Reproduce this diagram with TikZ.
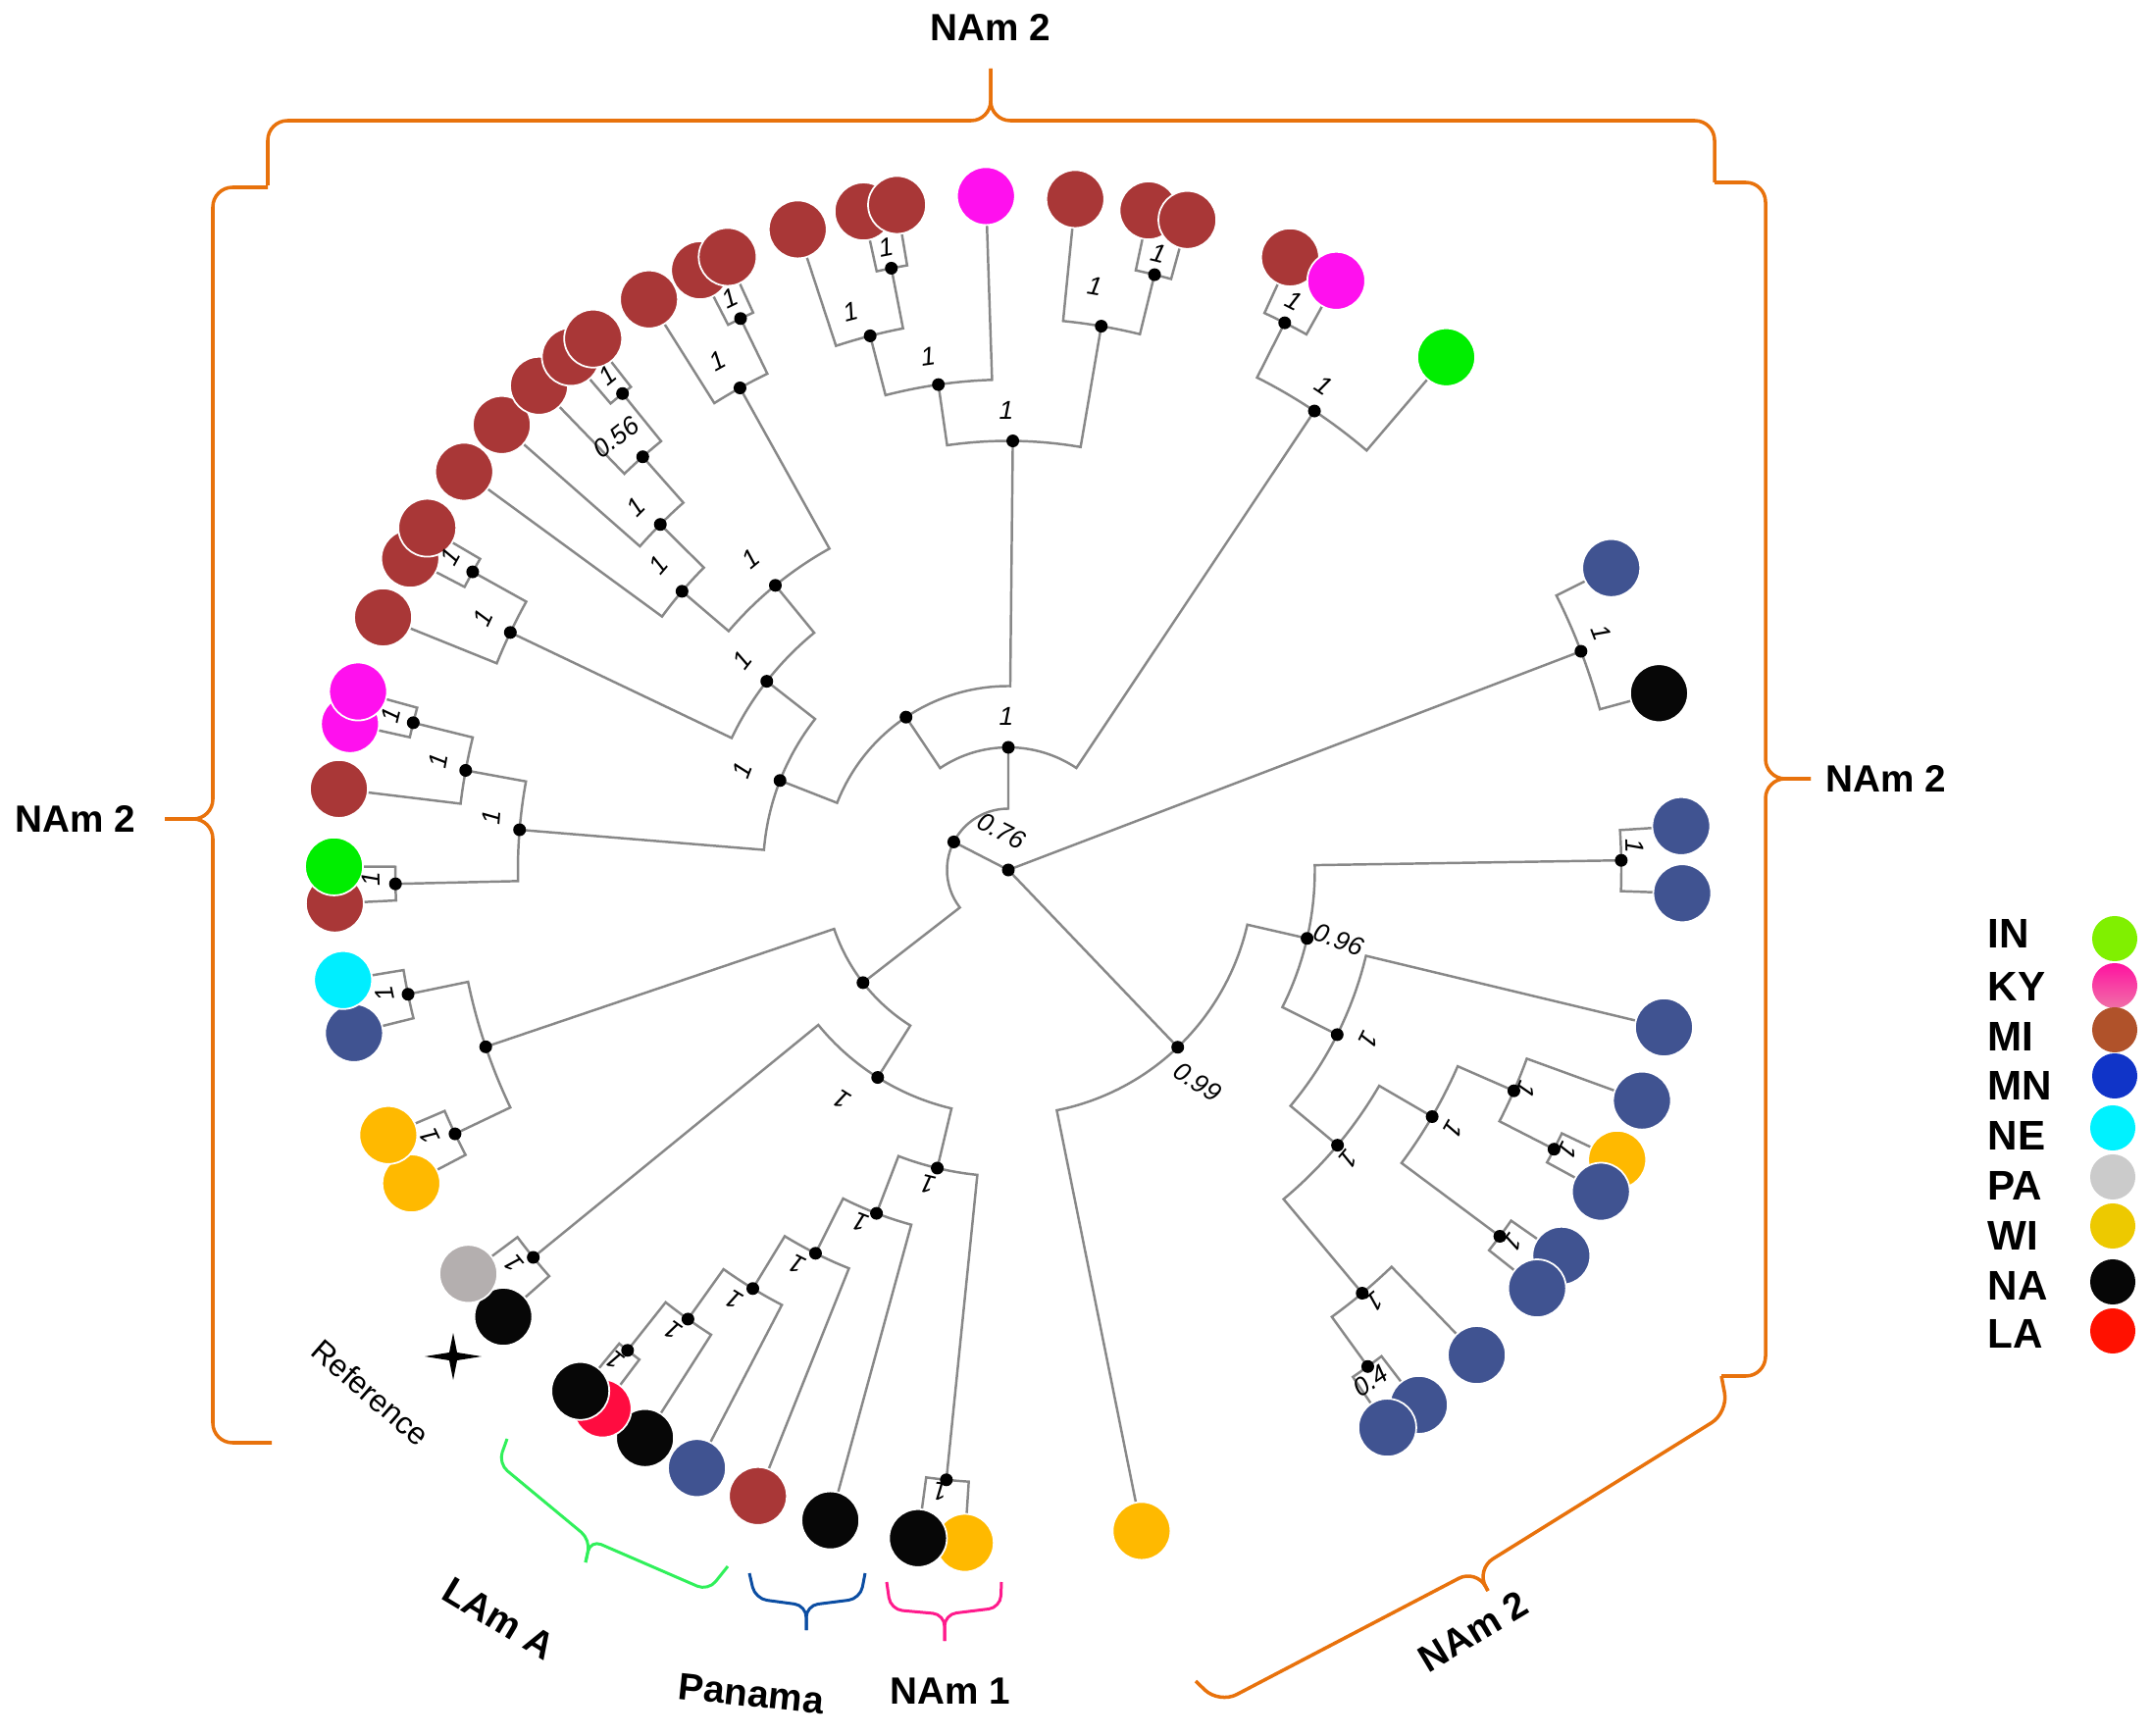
\documentclass[tikz,border=0pt]{standalone}
\usepackage{fontspec}
\setmainfont{Liberation Sans}
\usetikzlibrary{backgrounds}

\definecolor{linegrey}{HTML}{888888}
\definecolor{treeMI}{HTML}{A93737}
\definecolor{treeKY}{HTML}{FF10EE}
\definecolor{treeIN}{HTML}{00EE00}
\definecolor{treeNE}{HTML}{00EEFF}
\definecolor{treeMN}{HTML}{405391}
\definecolor{treeWI}{HTML}{FFB900}
\definecolor{treeNA}{HTML}{070707}
\definecolor{treePA}{HTML}{B4AFAF}
\definecolor{treeLA}{HTML}{FF0C40}
\definecolor{keyIN}{HTML}{80F000}
\definecolor{keyKYtop}{HTML}{FF12A0}
\definecolor{keyKYbot}{HTML}{F070A8}
\definecolor{keyMI}{HTML}{B0522A}
\definecolor{keyMN}{HTML}{1034C8}
\definecolor{keyNE}{HTML}{00F2FF}
\definecolor{keyPA}{HTML}{CBCBCB}
\definecolor{keyWI}{HTML}{EDC900}
\definecolor{keyNA}{HTML}{060606}
\definecolor{keyLA}{HTML}{FF1100}
\definecolor{braceOrange}{HTML}{E8720C}
\definecolor{braceGreen}{HTML}{30F05A}
\definecolor{braceBlue}{HTML}{0B4DA2}
\definecolor{bracePink}{HTML}{FF1A8C}

\tikzset{
  branch/.style={draw=linegrey, line width=0.7pt},
  dot/.style={circle, fill=black, inner sep=0pt, minimum size=0.13cm},
  tip/.style={circle, draw=white, line width=0.5pt, inner sep=0pt, minimum size=0.59cm},
  tipMI/.style={tip, fill=treeMI}, tipKY/.style={tip, fill=treeKY},
  tipIN/.style={tip, fill=treeIN}, tipNE/.style={tip, fill=treeNE},
  tipMN/.style={tip, fill=treeMN}, tipWI/.style={tip, fill=treeWI},
  tipNA/.style={tip, fill=treeNA}, tipPA/.style={tip, fill=treePA},
  tipLA/.style={tip, fill=treeLA},
  sup/.style={font=\fontsize{7.5}{8}\selectfont\itshape, inner sep=0pt},
  grp/.style={font=\fontsize{11}{13}\selectfont\bfseries, inner sep=0pt},
  keytext/.style={font=\fontsize{12}{14}\selectfont\bfseries, anchor=west, inner sep=0pt},
  keydot/.style={circle, inner sep=0pt, minimum size=0.46cm},
  clade/.style={line width=1pt, rounded corners=2mm},
  subclade/.style={line width=0.85pt, rounded corners=1.2mm}
}

\begin{document}
\begin{tikzpicture}[x=0.01cm, y=0.01cm]
\useasboundingbox (0,0) rectangle (2193,-1770);

% tree, centred on the root
\begin{scope}[shift={(1028,-887)}]
  \node[dot] (O) at (0,0) {};
  \node[dot] (B) at (152.8:62.5) {};
  \node[dot] (C) at (90:125) {};
  \node[dot] (D) at (123.8:187.5) {};
  \node[dot] (E) at (89.4:437.5) {};
  \node[dot] (E1) at (98.2:500) {};
  \node[dot] (E2) at (104.5:562.5) {};
  \node[dot] (E3) at (101:625) {};
  \node[dot] (E4) at (80.3:562.5) {};
  \node[dot] (E5) at (76.2:625) {};
  \node[dot] (G) at (56.3:562.5) {};
  \node[dot] (G1) at (63.2:625) {};
  \node[dot] (F) at (158.6:250) {};
  \node[dot] (F1) at (142:312.5) {};
  \node[dot] (F2) at (175.3:500) {};
  \node[dot] (F3) at (129.3:375) {};
  \node[dot] (F4) at (154.5:562.5) {};
  \node[dot] (F5) at (150.9:625) {};
  \node[dot] (F6) at (119.1:562.5) {};
  \node[dot] (F7) at (139.5:437.5) {};
  \node[dot] (F8) at (115.9:625) {};
  \node[dot] (F9) at (135.2:500) {};
  \node[dot] (F10) at (131.5:562.5) {};
  \node[dot] (F11) at (129:625) {};
  \node[dot] (F12) at (181.3:625) {};
  \node[dot] (F13) at (169.6:562.5) {};
  \node[dot] (F14) at (166.1:625) {};
  \node[dot] (H) at (217.8:187.5) {};
  \node[dot] (H1) at (198.7:562.5) {};
  \node[dot] (H2) at (237.8:250) {};
  \node[dot] (H3) at (219.2:625) {};
  \node[dot] (H4) at (256.6:312.5) {};
  \node[dot] (H5) at (264.2:625) {};
  \node[dot] (H6) at (249:375) {};
  \node[dot] (H7) at (243.3:437.5) {};
  \node[dot] (H8) at (238.6:500) {};
  \node[dot] (H9) at (234.5:562.5) {};
  \node[dot] (H10) at (231.6:625) {};
  \node[dot] (H11) at (191.7:625) {};
  \node[dot] (H12) at (205.5:625) {};
  \node[dot] (R1) at (20.9:625) {};
  \node[dot] (K) at (-46.3:250) {};
  \node[dot] (K1) at (-12.9:312.5) {};
  \node[dot] (K2) at (0.9:625) {};
  \node[dot] (K3) at (-26.6:375) {};
  \node[dot] (K4) at (-39.9:437.5) {};
  \node[dot] (K5) at (-30.2:500) {};
  \node[dot] (K6) at (-23.6:562.5) {};
  \node[dot] (K7) at (-27.1:625) {};
  \node[dot] (K8) at (-36.7:625) {};
  \node[dot] (K9) at (-50.1:562.5) {};
  \node[dot] (K10) at (-54.1:625) {};

  % tips, back to front
  \node[tipWI] (H5b) at (266.3:687.5) {};
  \node[tipNA] (H5a) at (262.3:687.5) {};
  \node[tipNA] (H6a) at (254.7:687.5) {};
  \node[tipMI] (H7a) at (248.2:687.5) {};
  \node[tipMN] (H8a) at (242.5:687.5) {};
  \node[tipNA] (H9a) at (237.4:687.5) {};
  \node[tipLA] (H10b) at (233:687.5) {};
  \node[tipNA] (H10a) at (230.6:687.5) {};
  \node[tipNA] (H3b) at (221.5:687.5) {};
  \node[tipPA] (H3a) at (216.8:687.5) {};
  \node[tipWI] (H12b) at (207.7:687.5) {};
  \node[tipWI] (H12a) at (203.15:687.5) {};
  \node[tipMN] (H11b) at (194:687.5) {};
  \node[tipNE] (H11a) at (189.4:687.5) {};
  \node[tipMI] (F12b) at (182.85:687.5) {};
  \node[tipIN] (F12a) at (179.7:687.5) {};
  \node[tipMI] (F13a) at (173.1:687.5) {};
  \node[tipKY] (F14b) at (167.5:687.5) {};
  \node[tipKY] (F14a) at (164.65:687.5) {};
  \node[tipMI] (F4a) at (158:687.5) {};
  \node[tipMI] (F5b) at (152.5:687.5) {};
  \node[tipMI] (F5a) at (149.5:687.5) {};
  \node[tipMI] (F7a) at (143.8:687.5) {};
  \node[tipMI] (F9a) at (138.7:687.5) {};
  \node[tipMI] (F10a) at (134.1:687.5) {};
  \node[tipMI] (F11b) at (130.45:687.5) {};
  \node[tipMI] (F11a) at (128:687.5) {};
  \node[tipMI] (F6a) at (122.2:687.5) {};
  \node[tipMI] (F8b) at (117.2:687.5) {};
  \node[tipMI] (F8a) at (114.6:687.5) {};
  \node[tipMI] (E2a) at (108.2:687.5) {};
  \node[tipMI] (E3b) at (102.4:687.5) {};
  \node[tipMI] (E3a) at (99.5:687.5) {};
  \node[tipKY] (E1a) at (91.9:687.5) {};
  \node[tipMI] (E4a) at (84.3:687.5) {};
  \node[tipMI] (E5b) at (78:687.5) {};
  \node[tipMI] (E5a) at (74.6:687.5) {};
  \node[tipMI] (G1b) at (65.3:687.5) {};
  \node[tipKY] (G1a) at (60.9:687.5) {};
  \node[tipIN] (Ga) at (49.5:687.5) {};
  \node[tipMN] (R1b) at (26.6:687.5) {};
  \node[tipNA] (R1a) at (15.2:687.5) {};
  \node[tipMN] (K2b) at (3.73:687.5) {};
  \node[tipMN] (K2a) at (-1.98:687.5) {};
  \node[tipMN] (K3a) at (-13.5:687.5) {};
  \node[tipMN] (K6a) at (-20:687.5) {};
  \node[tipWI] (K7b) at (-25.45:687.5) {};
  \node[tipMN] (K7a) at (-28.5:687.5) {};
  \node[tipMN] (K8b) at (-34.9:687.5) {};
  \node[tipMN] (K8a) at (-38.35:687.5) {};
  \node[tipMN] (K9a) at (-46:687.5) {};
  \node[tipMN] (K10b) at (-52.5:687.5) {};
  \node[tipMN] (K10a) at (-55.8:687.5) {};
  \node[tipWI] (Ka) at (-78.6:687.5) {};

  \begin{pgfonlayer}{background}
    \draw[branch] (O.center) -- (B.center);
    \draw[branch] (O.center) -- (R1.center);
    \draw[branch] (O.center) -- (K.center);
    \draw[branch] (C.center) -- (90:62.5) arc[start angle=90, end angle=217.8, radius=62.5] -- (H.center);
    \draw[branch] (G.center) -- (56.3:125) arc[start angle=56.3, end angle=123.8, radius=125] -- (D.center);
    \draw[branch] (E.center) -- (89.4:187.5) arc[start angle=89.4, end angle=158.6, radius=187.5] -- (F.center);
    % top clade
    \draw[branch] (E4.center) -- (80.3:437.5) arc[start angle=80.3, end angle=98.2, radius=437.5] -- (E1.center);
    \draw[branch] (E1a.center) -- (91.9:500) arc[start angle=91.9, end angle=104.5, radius=500] -- (E2.center);
    \draw[branch] (E3.center) -- (101:562.5) arc[start angle=101, end angle=108.2, radius=562.5] -- (E2a.center);
    \draw[branch] (E3a.center) -- (99.5:625) arc[start angle=99.5, end angle=102.4, radius=625] -- (E3b.center);
    \draw[branch] (E5.center) -- (76.2:562.5) arc[start angle=76.2, end angle=84.3, radius=562.5] -- (E4a.center);
    \draw[branch] (E5a.center) -- (74.6:625) arc[start angle=74.6, end angle=78, radius=625] -- (E5b.center);
    \draw[branch] (Ga.center) -- (49.5:562.5) arc[start angle=49.5, end angle=63.2, radius=562.5] -- (G1.center);
    \draw[branch] (G1a.center) -- (60.9:625) arc[start angle=60.9, end angle=65.3, radius=625] -- (G1b.center);
    % left clade
    \draw[branch] (F1.center) -- (142:250) arc[start angle=142, end angle=175.3, radius=250] -- (F2.center);
    \draw[branch] (F3.center) -- (129.3:312.5) arc[start angle=129.3, end angle=154.5, radius=312.5] -- (F4.center);
    \draw[branch] (F6.center) -- (119.1:375) arc[start angle=119.1, end angle=139.5, radius=375] -- (F7.center);
    \draw[branch] (F8.center) -- (115.9:562.5) arc[start angle=115.9, end angle=122.2, radius=562.5] -- (F6a.center);
    \draw[branch] (F8a.center) -- (114.6:625) arc[start angle=114.6, end angle=117.2, radius=625] -- (F8b.center);
    \draw[branch] (F9.center) -- (135.2:437.5) arc[start angle=135.2, end angle=143.8, radius=437.5] -- (F7a.center);
    \draw[branch] (F10.center) -- (131.5:500) arc[start angle=131.5, end angle=138.7, radius=500] -- (F9a.center);
    \draw[branch] (F11.center) -- (129:562.5) arc[start angle=129, end angle=134.1, radius=562.5] -- (F10a.center);
    \draw[branch] (F11a.center) -- (128:625) arc[start angle=128, end angle=130.45, radius=625] -- (F11b.center);
    \draw[branch] (F5.center) -- (150.9:562.5) arc[start angle=150.9, end angle=158, radius=562.5] -- (F4a.center);
    \draw[branch] (F5a.center) -- (149.5:625) arc[start angle=149.5, end angle=152.5, radius=625] -- (F5b.center);
    \draw[branch] (F13.center) -- (169.6:500) arc[start angle=169.6, end angle=181.3, radius=500] -- (F12.center);
    \draw[branch] (F14.center) -- (166.1:562.5) arc[start angle=166.1, end angle=173.1, radius=562.5] -- (F13a.center);
    \draw[branch] (F14a.center) -- (164.65:625) arc[start angle=164.65, end angle=167.5, radius=625] -- (F14b.center);
    \draw[branch] (F12a.center) -- (179.7:625) arc[start angle=179.7, end angle=182.85, radius=625] -- (F12b.center);
    % lower clade
    \draw[branch] (H1.center) -- (198.7:187.5) arc[start angle=198.7, end angle=237.8, radius=187.5] -- (H2.center);
    \draw[branch] (H11.center) -- (191.7:562.5) arc[start angle=191.7, end angle=205.5, radius=562.5] -- (H12.center);
    \draw[branch] (H11a.center) -- (189.4:625) arc[start angle=189.4, end angle=194, radius=625] -- (H11b.center);
    \draw[branch] (H12a.center) -- (203.15:625) arc[start angle=203.15, end angle=207.7, radius=625] -- (H12b.center);
    \draw[branch] (H3.center) -- (219.2:250) arc[start angle=219.2, end angle=256.6, radius=250] -- (H4.center);
    \draw[branch] (H3a.center) -- (216.8:625) arc[start angle=216.8, end angle=221.5, radius=625] -- (H3b.center);
    \draw[branch] (H6.center) -- (249:312.5) arc[start angle=249, end angle=264.2, radius=312.5] -- (H5.center);
    \draw[branch] (H5a.center) -- (262.3:625) arc[start angle=262.3, end angle=266.3, radius=625] -- (H5b.center);
    \draw[branch] (H7.center) -- (243.3:375) arc[start angle=243.3, end angle=254.7, radius=375] -- (H6a.center);
    \draw[branch] (H8.center) -- (238.6:437.5) arc[start angle=238.6, end angle=248.2, radius=437.5] -- (H7a.center);
    \draw[branch] (H9.center) -- (234.5:500) arc[start angle=234.5, end angle=242.5, radius=500] -- (H8a.center);
    \draw[branch] (H10.center) -- (231.6:562.5) arc[start angle=231.6, end angle=237.4, radius=562.5] -- (H9a.center);
    \draw[branch] (H10a.center) -- (230.6:625) arc[start angle=230.6, end angle=233, radius=625] -- (H10b.center);
    % right clades
    \draw[branch] (R1a.center) -- (15.2:625) arc[start angle=15.2, end angle=26.6, radius=625] -- (R1b.center);
    \draw[branch] (Ka.center) -- (-78.6:250) arc[start angle=-78.6, end angle=-12.9, radius=250] -- (K1.center);
    \draw[branch] (K3.center) -- (-26.6:312.5) arc[start angle=-26.6, end angle=0.9, radius=312.5] -- (K2.center);
    \draw[branch] (K2a.center) -- (-1.98:625) arc[start angle=-1.98, end angle=3.73, radius=625] -- (K2b.center);
    \draw[branch] (K4.center) -- (-39.9:375) arc[start angle=-39.9, end angle=-13.5, radius=375] -- (K3a.center);
    \draw[branch] (K9.center) -- (-50.1:437.5) arc[start angle=-50.1, end angle=-30.2, radius=437.5] -- (K5.center);
    \draw[branch] (K8.center) -- (-36.7:500) arc[start angle=-36.7, end angle=-23.6, radius=500] -- (K6.center);
    \draw[branch] (K7.center) -- (-27.1:562.5) arc[start angle=-27.1, end angle=-20, radius=562.5] -- (K6a.center);
    \draw[branch] (K7a.center) -- (-28.5:625) arc[start angle=-28.5, end angle=-25.45, radius=625] -- (K7b.center);
    \draw[branch] (K8a.center) -- (-38.35:625) arc[start angle=-38.35, end angle=-34.9, radius=625] -- (K8b.center);
    \draw[branch] (K10.center) -- (-54.1:562.5) arc[start angle=-54.1, end angle=-46, radius=562.5] -- (K9a.center);
    \draw[branch] (K10a.center) -- (-55.8:625) arc[start angle=-55.8, end angle=-52.5, radius=625] -- (K10b.center);
  \end{pgfonlayer}
\end{scope}

% support values
\node[sup] (sC) at (1026,-730) {1};
\node[sup, rotate=-27] (sO) at (1021,-847) {0.76};
\node[sup] (sE) at (1026,-418) {1};
\node[sup, rotate=8] (sE1) at (946,-363) {1};
\node[sup, rotate=14.5] (sE2) at (867,-318) {1};
\node[sup, rotate=11] (sE3) at (903,-252) {1};
\node[sup, rotate=-9.7] (sE4) at (1116,-292) {1};
\node[sup, rotate=-13.8] (sE5) at (1181,-258) {1};
\node[sup, rotate=-33.7] (sG) at (1350,-393) {1};
\node[sup, rotate=-26.8] (sG1) at (1319,-307) {1};
\node[sup, rotate=68.6] (sF) at (757,-785) {1};
\node[sup, rotate=52] (sF1) at (757,-673) {1};
\node[sup, rotate=39.3] (sF3) at (765,-570) {1};
\node[sup, rotate=29] (sF6) at (732,-368) {1};
\node[sup, rotate=26] (sF8) at (744,-304) {1};
\node[sup, rotate=49.5] (sF7) at (671,-576) {1};
\node[sup, rotate=45] (sF9) at (648,-517) {1};
\node[sup, rotate=38] (sF10) at (628,-446) {0.56};
\node[sup, rotate=39] (sF11) at (619,-383) {1};
\node[sup, rotate=64.5] (sF4) at (492,-630) {1};
\node[sup, rotate=61] (sF5) at (459,-568) {1};
\node[sup, rotate=85.3] (sF2) at (501,-833) {1};
\node[sup, rotate=91.3] (sF12) at (378,-896) {1};
\node[sup, rotate=79.6] (sF13) at (447,-776) {1};
\node[sup, rotate=76] (sF14) at (398,-729) {1};
\node[sup, rotate=101.7] (sH11) at (392,-1013) {1};
\node[sup, rotate=115.5] (sH12) at (438,-1159) {1};
\node[sup, rotate=147.8] (sH2) at (858,-1121) {1};
\node[sup, rotate=129.2] (sH3) at (524,-1289) {1};
\node[sup, rotate=166.6] (sH4) at (946,-1208) {1};
\node[sup, rotate=174.2] (sH5) at (959,-1521) {1};
\node[sup, rotate=159] (sH6) at (877,-1246) {1};
\node[sup, rotate=153.3] (sH7) at (813,-1289) {1};
\node[sup, rotate=148.6] (sH8) at (749,-1325) {1};
\node[sup, rotate=144.5] (sH9) at (686,-1357) {1};
\node[sup, rotate=141.6] (sH10) at (627,-1387) {1};
\node[sup, rotate=-69.1] (sR1) at (1633,-645) {1};
\node[sup, rotate=-34] (sK) at (1221,-1103) {0.99};
\node[sup, rotate=-20] (sK1) at (1365,-958) {0.96};
\node[sup, rotate=-89] (sK2) at (1667,-863) {1};
\node[sup, rotate=-116.6] (sK3) at (1395,-1060) {1};
\node[sup, rotate=-130] (sK4) at (1375,-1182) {1};
\node[sup, rotate=-120] (sK5) at (1482,-1151) {1};
\node[sup, rotate=-113.6] (sK6) at (1556,-1111) {1};
\node[sup, rotate=-117] (sK7) at (1598,-1173) {1};
\node[sup, rotate=-126.7] (sK8) at (1542,-1267) {1};
\node[sup, rotate=-140] (sK9) at (1402,-1327) {1};
\node[sup, rotate=35] (sK10) at (1397,-1408) {0.4};

% orange NAm 2 braces
\draw[clade, draw=braceOrange] (273,-189) -- (273,-123) -- (1010,-123) -- (1010,-70);
\draw[clade, draw=braceOrange] (1748,-186) -- (1748,-123) -- (1010,-123) -- (1010,-70);
\draw[clade, draw=braceOrange] (273,-191) -- (217,-191) -- (217,-835) -- (168,-835);
\draw[clade, draw=braceOrange] (277,-1471) -- (217,-1471) -- (217,-835) -- (168,-835);
\draw[clade, draw=braceOrange] (1748,-186) -- (1800,-186) -- (1800,-794) -- (1846,-794);
\draw[clade, draw=braceOrange] (1755,-1403) -- (1800,-1403) -- (1800,-794) -- (1846,-794);
\draw[clade, draw=braceOrange] (1755,-1403) -- (1762,-1440) -- (1505,-1600) -- (1517,-1622);
\draw[clade, draw=braceOrange] (1219,-1714) -- (1243,-1737) -- (1505,-1600) -- (1517,-1622);
\node[grp] (nTop) at (1010,-28) {NAm 2};
\node[grp] (nLeft) at (77,-835) {NAm 2};
\node[grp] (nRight) at (1923,-794) {NAm 2};
\node[grp, rotate=31] (nLow) at (1502,-1663) {NAm 2};

% small braces below the tree
\draw[subclade, draw=braceGreen] (517,-1467) -- (508,-1492) -- (602,-1570) -- (597,-1593);
\draw[subclade, draw=braceGreen] (742,-1597) -- (722,-1622) -- (602,-1570) -- (597,-1593);
\draw[subclade, draw=braceBlue] (764,-1604) -- (770,-1630) -- (822,-1637) -- (822,-1662);
\draw[subclade, draw=braceBlue] (882,-1604) -- (877,-1630) -- (822,-1637) -- (822,-1662);
\draw[subclade, draw=bracePink] (904,-1613) -- (908,-1641) -- (963,-1646) -- (963,-1673);
\draw[subclade, draw=bracePink] (1021,-1613) -- (1020,-1639) -- (963,-1646) -- (963,-1673);
\node[grp, rotate=-31] (nLAm) at (509,-1650) {LAm A};
\node[grp, rotate=-6] (nPan) at (766,-1727) {Panama};
\node[grp] (nNAm1) at (969,-1724) {NAm 1};

% reference strain
\fill[shift={(462,-1383)}] (29,0) -- (4,4) -- (0,24) -- (-4,4) -- (-29,0) -- (-4,-4) -- (0,-24) -- (4,-4) -- cycle;
\node[font=\fontsize{9}{10}\selectfont, rotate=-41, inner sep=0pt] (nRef) at (378,-1420) {Reference};

% legend
\node[keytext] (kIN) at (2026,-952) {IN};
\node[keytext] (kKY) at (2026,-1006) {KY};
\node[keytext] (kMI) at (2026,-1057) {MI};
\node[keytext] (kMN) at (2026,-1107) {MN};
\node[keytext] (kNE) at (2026,-1158) {NE};
\node[keytext] (kPA) at (2026,-1209) {PA};
\node[keytext] (kWI) at (2026,-1260) {WI};
\node[keytext] (kNA) at (2026,-1311) {NA};
\node[keytext] (kLA) at (2026,-1360) {LA};
\node[keydot, fill=keyIN] (cIN) at (2156,-957) {};
\node[keydot, top color=keyKYtop, bottom color=keyKYbot] (cKY) at (2156,-1005) {};
\node[keydot, fill=keyMI] (cMI) at (2156,-1050) {};
\node[keydot, fill=keyMN] (cMN) at (2156,-1097) {};
\node[keydot, fill=keyNE] (cNE) at (2154,-1150) {};
\node[keydot, fill=keyPA] (cPA) at (2154,-1200) {};
\node[keydot, fill=keyWI] (cWI) at (2154,-1250) {};
\node[keydot, fill=keyNA] (cNA) at (2154,-1307) {};
\node[keydot, fill=keyLA] (cLA) at (2154,-1357) {};
\end{tikzpicture}
\end{document}
